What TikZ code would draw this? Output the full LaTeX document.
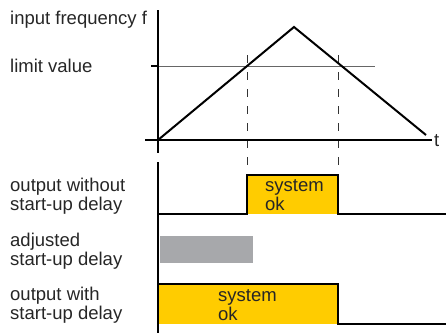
\documentclass[tikz,border=0pt]{standalone}
\usepackage{fontspec}
\setmainfont{Liberation Sans}
\usetikzlibrary{positioning}
\definecolor{sysyellow}{HTML}{FFCC00}
\definecolor{delaygray}{HTML}{A7A8AB}

\begin{document}
\begin{tikzpicture}[
        x=1pt, y=-1pt,
        label/.style={
            anchor=base west,
            inner sep=0pt,
            align=left,
            text=black!85,
            font=\fontsize{18.5}{18.5}\selectfont
        },
        axis/.style={
            line width=2.6pt
        },
        signal/.style={
            line width=2.2pt,
            line join=miter
        },
        marker/.style={
            dash pattern=on 8pt off 9pt,
            line width=0.8pt,
            black!80
        }
    ]

        \useasboundingbox (0,0) rectangle (446,333);

        % points of the frequency ramp
        \coordinate (origin) at (158,140);
        \coordinate (peak) at (294,27);
        \coordinate (rampend) at (426,135);
        \coordinate (limit) at (158,66);

        % labels
        \node[label] (freq) at (10,24) {input frequency f};
        \node[label] (lim) at (10,72) {limit value};
        \node[label] (time) at (434,146) {t};
        \node[label] (without) at (10,210) {output without\\start-up delay};
        \node[label] (adjusted) at (10,265) {adjusted\\start-up delay};
        \node[label] (with) at (10,319) {output with\\start-up delay};

        % fills
        \fill[sysyellow] (247,175) rectangle (338,214);
        \fill[sysyellow] (158,284) rectangle (338,324);
        \fill[delaygray] (160,236) rectangle (253,263);

        \node[label] (ok1) at (265,210) {system\\ok};
        \node[label] (ok2) at (218,320) {system\\ok};

        % limit value line and switching points
        \draw[black!60, line width=0.8pt] (limit) -- (375,66);
        \draw[marker] (247,55) -- (247,165);
        \draw[marker] (338,55) -- (338,165);

        % axes
        \draw[axis] (158,10) -- (158,153);
        \draw[axis] (158,162) -- (158,333);
        \draw[axis] (145,140) -- (432,140);
        \draw[axis] (151,66) -- (limit);

        % input frequency
        \draw[line width=2pt, line join=miter] (origin) -- (peak) -- (rampend);

        % outputs
        \draw[signal] (158,214) -- (247,214) -- (247,175) -- (338,175) -- (338,214) -- (446,214);
        \draw[signal] (158,284) -- (338,284) -- (338,324) -- (446,324);

    \end{tikzpicture}
\end{document}
